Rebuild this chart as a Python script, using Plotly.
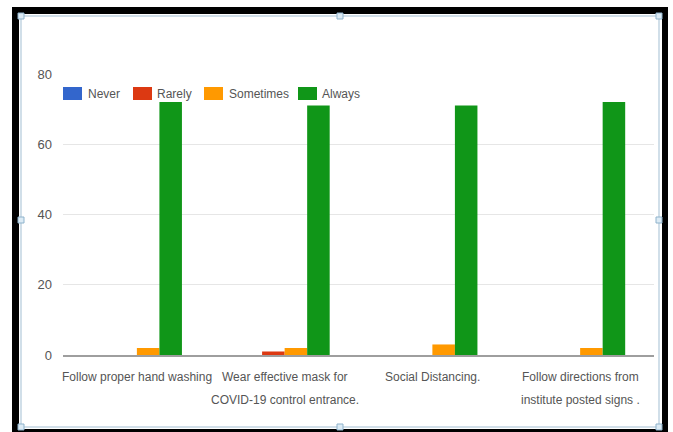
import plotly.graph_objects as go

# ---- data ----
categories = [
    "Follow proper hand washing",
    "Wear effective mask for COVID-19 control entrance.",
    "Social Distancing.",
    "Follow directions from institute posted signs .",
]
category_lines = [
    ["Follow proper hand washing"],
    ["Wear effective mask for", "COVID-19 control entrance."],
    ["Social Distancing."],
    ["Follow directions from", "institute posted signs ."],
]
series_names = ["Never", "Rarely", "Sometimes", "Always"]
never = [0, 0, 0, 0]
rarely = [0, 1, 0, 0]
sometimes = [2, 2, 3, 2]
always = [72, 71, 71, 72]
y_ticks = [0, 20, 40, 60, 80]

series_values = [never, rarely, sometimes, always]
colors = ["#3366cc", "#dc3912", "#ff9900", "#109618"]

FONT = "Liberation Sans, Arial, sans-serif"
TEXT = "#555555"

W, H = 673, 432
L, R, T, B = 63, 654, 74, 355  # plot area in pixels


def px(x):
    return (x - L) / (R - L)


def py(y):
    return (B - y) / (B - T)


fig = go.Figure()
for name, vals, col in zip(series_names, series_values, colors):
    fig.add_trace(go.Bar(x=categories, y=vals, name=name, marker_color=col,
                         marker_line_width=0, showlegend=False))

shapes = []
# black outer frame and white inner panel
shapes.append(dict(type="rect", xref="paper", yref="paper", layer="below",
                   x0=px(12), x1=px(668), y0=py(445), y1=py(7),
                   fillcolor="#000000", line_width=0))
shapes.append(dict(type="rect", xref="paper", yref="paper", layer="below",
                   x0=px(19), x1=px(662), y0=py(429), y1=py(14),
                   fillcolor="#ffffff", line_width=0))
# light selection outline with handles
shapes.append(dict(type="rect", xref="paper", yref="paper", layer="below",
                   x0=px(21), x1=px(659), y0=py(427), y1=py(16),
                   line=dict(color="#a3bfd3", width=1)))
for hx, hy in [(21, 16), (340, 16), (659, 16), (21, 220), (659, 220),
               (21, 427), (340, 427), (659, 427)]:
    shapes.append(dict(type="rect", xref="paper", yref="paper",
                       x0=px(hx - 3), x1=px(hx + 3), y0=py(hy + 3), y1=py(hy - 3),
                       fillcolor="#dcebf5", line=dict(color="#8fb3cc", width=1)))

# legend row
legend_swatch_x = [63, 133, 204, 298]
legend_text_x = [88, 157, 229, 322]
annotations = []
for name, col, sx, tx in zip(series_names, colors, legend_swatch_x, legend_text_x):
    shapes.append(dict(type="rect", xref="paper", yref="paper",
                       x0=px(sx), x1=px(sx + 19), y0=py(100), y1=py(87),
                       fillcolor=col, line_width=0))
    annotations.append(dict(xref="paper", yref="paper", x=px(tx - 2), y=py(93.5),
                            xanchor="left", yanchor="middle", showarrow=False,
                            text=name, font=dict(family=FONT, size=12, color=TEXT)))

# category labels under the axis
for cat, lines in zip(categories, category_lines):
    for i, line in enumerate(lines):
        annotations.append(dict(xref="x", yref="paper", x=cat, y=py(377 + 23 * i),
                                xanchor="center", yanchor="middle", showarrow=False,
                                text=line, font=dict(family=FONT, size=12, color=TEXT)))

fig.update_layout(
    width=W, height=H,
    margin=dict(l=L, r=W - R, t=T, b=H - B, pad=0),
    paper_bgcolor="#ffffff",
    plot_bgcolor="rgba(0,0,0,0)",
    barmode="group",
    bargap=0.39,
    bargroupgap=0,
    shapes=shapes,
    annotations=annotations,
    font=dict(family=FONT, size=13, color=TEXT),
    xaxis=dict(range=[-0.5, 3.5], autorange=False, showticklabels=False,
               showgrid=False, showline=True, linecolor="#9e9e9e", linewidth=2,
               ticks="", fixedrange=True),
    yaxis=dict(range=[0, 80], tickvals=y_ticks, showgrid=True, gridcolor="#e6e6e6",
               gridwidth=1, zeroline=False, showline=False, ticks="",
               ticklabelstandoff=10, tickfont=dict(family=FONT, size=13, color=TEXT)),
)

fig.write_html("out.html")
